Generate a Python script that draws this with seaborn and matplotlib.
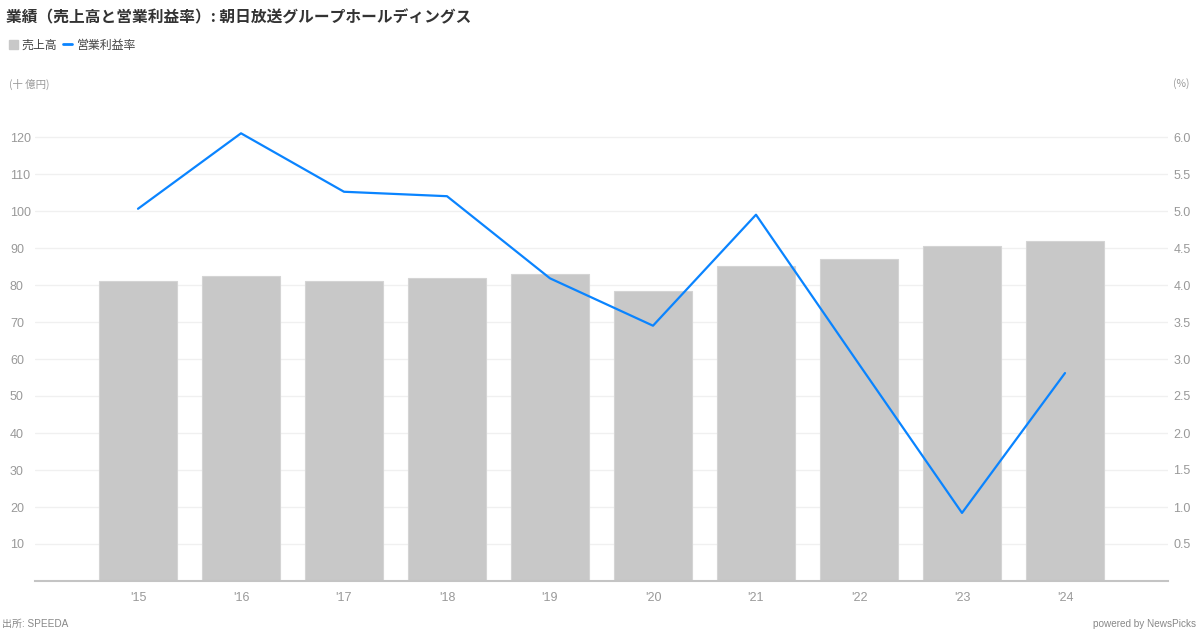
import matplotlib
matplotlib.use("Agg")
import matplotlib.pyplot as plt
import seaborn as sns
import pandas as pd
from matplotlib.patches import Patch
from matplotlib.lines import Line2D

# chart data
years = ["'15", "'16", "'17", "'18", "'19", "'20", "'21", "'22", "'23", "'24"]
sales = [81.1, 82.4, 81.1, 81.9, 83.0, 78.4, 85.1, 87.0, 90.5, 91.9]        # 十億円
op_margin = [5.03, 6.05, 5.26, 5.20, 4.09, 3.45, 4.95, 2.93, 0.92, 2.81]    # %

left_ticks = [10, 20, 30, 40, 50, 60, 70, 80, 90, 100, 110, 120]
right_ticks = [0.5, 1.0, 1.5, 2.0, 2.5, 3.0, 3.5, 4.0, 4.5, 5.0, 5.5, 6.0]

df = pd.DataFrame({"year": years, "sales": sales, "margin": op_margin})

sns.set_theme(style="white")
plt.rcParams["font.family"] = ["Liberation Sans", "Noto Sans CJK JP", "DejaVu Sans"]
cjk = ["Noto Sans CJK JP", "Liberation Sans"]

bar_color = "#c8c8c8"
line_color = "#0a84ff"
tick_color = "#999999"

fig = plt.figure(figsize=(12, 6.3), dpi=100)
ax = fig.add_axes([35 / 1200, 1 - 581 / 630, (1168 - 35) / 1200, (581 - 100) / 630])

sns.barplot(data=df, x="year", y="sales", color=bar_color, width=0.75,
            saturation=1, edgecolor="#d4d4d4", linewidth=0.8, ax=ax, zorder=2)

ax2 = ax.twinx()
sns.pointplot(data=df, x="year", y="margin", color=line_color, markers="",
              linewidth=1.6, ax=ax2, zorder=3)

ax.set_xlim(-1, 10)
ax.set_ylim(0, 130)
ax2.set_ylim(0, 6.5)

ax.set_yticks(left_ticks)
ax.set_yticklabels([str(t) for t in left_ticks])
ax2.set_yticks(right_ticks)
ax2.set_yticklabels([f"{t:.1f}" for t in right_ticks])

ax.grid(axis="y", color="#f0f0f0", linewidth=1, zorder=0)
ax.set_axisbelow(True)
ax2.grid(False)

for a in (ax, ax2):
    for s in ("top", "left", "right", "bottom"):
        a.spines[s].set_visible(False)
    a.set_xlabel("")
    a.set_ylabel("")
ax.spines["bottom"].set_visible(True)
ax.spines["bottom"].set_color("#c4c4c4")
ax.spines["bottom"].set_linewidth(1.5)

ax.tick_params(axis="x", length=0, pad=8, labelsize=9, labelcolor=tick_color)
ax.tick_params(axis="y", length=0, pad=0, labelsize=9, labelcolor=tick_color)
ax2.tick_params(axis="y", length=0, pad=4, labelsize=9, labelcolor=tick_color)

# left tick labels are left-aligned near the figure edge
for lbl in ax.get_yticklabels():
    lbl.set_horizontalalignment("left")
    lbl.set_x(-25 / 1133)
    lbl.set_transform(ax.get_yaxis_transform())

# title, legend, unit labels, footer
fig.text(6 / 1200, 1 - 17 / 630, "業績（売上高と営業利益率）: 朝日放送グループホールディングス",
         fontsize=11.3, fontweight="bold", color="#333333", va="center", ha="left",
         family=cjk)

handles = [Patch(facecolor=bar_color, edgecolor=bar_color, label="売上高"),
           Line2D([0], [0], color=line_color, linewidth=2, label="営業利益率")]
leg = fig.legend(handles=handles, loc="center left", bbox_to_anchor=(-2 / 1200, 1 - 45 / 630),
                 ncol=2, frameon=False, fontsize=8.6, handlelength=0.75, handleheight=0.75,
                 handletextpad=0.35, columnspacing=0.5, labelcolor="#444444")
for t in leg.get_texts():
    t.set_family(cjk)

fig.text(9 / 1200, 1 - 84 / 630, "(十 億円)", fontsize=7.5, color=tick_color,
         va="center", ha="left", family=cjk)
fig.text(1190 / 1200, 1 - 84 / 630, "(%)", fontsize=7.5, color=tick_color,
         va="center", ha="right", family=cjk)

fig.text(2 / 1200, 1 - 624 / 630, "出所: SPEEDA", fontsize=7.2, color="#888888",
         va="center", ha="left")
fig.text(1196 / 1200, 1 - 624 / 630, "powered by NewsPicks", fontsize=7.2, color="#888888",
         va="center", ha="right")

fig.savefig("out.png", dpi=100, facecolor="white")
